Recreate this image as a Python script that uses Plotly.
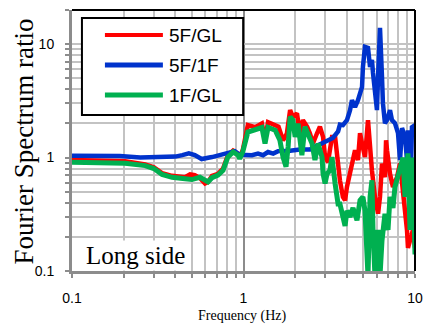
import plotly.graph_objects as go

# ---- data ----
freq_5f_1f = [0.1, 0.146, 0.19, 0.25, 0.33, 0.40, 0.44, 0.48, 0.52, 0.57, 0.655, 0.75, 0.81, 0.89, 0.95,
              1.02, 1.12, 1.215, 1.30, 1.39, 1.49, 1.59, 1.745, 1.87, 2.13, 2.44, 2.54, 2.79, 3.07, 3.32,
              3.56, 3.65, 3.80, 4.01, 4.18, 4.29, 4.47, 4.65, 4.91, 4.97, 5.11, 5.32, 5.47, 5.61, 5.69,
              5.84, 6.0, 6.09, 6.25, 6.42, 6.50, 6.68, 6.87, 7.15, 7.34, 7.64, 7.96, 8.18, 8.40, 8.75,
              8.98, 9.1, 9.48, 9.6, 10]
ratio_5f_1f = [1.04, 1.04, 1.03, 1.00, 1.00, 1.02, 1.05, 1.09, 1.05, 0.97, 1.01, 1.06, 1.11, 1.14, 1.06,
               1.05, 1.05, 1.085, 1.05, 1.12, 1.085, 1.14, 1.14, 1.15, 1.18, 1.18, 1.22, 1.30, 1.39, 1.49,
               1.70, 1.95, 1.93, 2.14, 2.62, 3.21, 2.79, 3.21, 4.19, 6.30, 9.46, 9.27, 6.30, 7.26, 5.57,
               3.94, 2.62, 5.14, 13.9, 5.14, 3.02, 2.01, 2.14, 2.62, 2.14, 2.01, 1.64, 0.95, 1.82, 1.51,
               0.95, 1.74, 0.80, 1.85, 1.93]

freq_5f_gl = [0.1, 0.146, 0.204, 0.267, 0.30, 0.335, 0.383, 0.456, 0.488, 0.52, 0.557, 0.596, 0.621, 0.655,
              0.71, 0.76, 0.81, 0.87, 0.93, 0.95, 0.99, 1.06, 1.17, 1.28, 1.335, 1.39, 1.53, 1.6, 1.70,
              1.79, 1.87, 1.94, 2.05, 2.13, 2.22, 2.35, 2.44, 2.54, 2.68, 2.79, 2.91, 2.99, 3.11, 3.28,
              3.42, 3.51, 3.65, 3.80, 3.91, 4.01, 4.18, 4.47, 4.65, 4.78, 4.91, 5.11, 5.32, 5.47, 5.61,
              5.84, 6.09, 6.25, 6.42, 6.68, 6.78, 6.87, 7.15, 7.44, 7.85, 8.18, 8.51, 8.98, 9.1, 9.35,
              9.73, 10]
ratio_5f_gl = [0.95, 0.95, 0.93, 0.87, 0.82, 0.73, 0.69, 0.67, 0.71, 0.70, 0.66, 0.59, 0.61, 0.69,
               0.72, 0.80, 1.04, 1.15, 1.08, 1.01, 1.16, 1.93, 1.85, 2.0, 1.42, 2.05, 1.93, 1.87, 1.42,
               1.63, 2.62, 2.29, 2.45, 1.63, 2.14, 1.87, 1.63, 1.33, 1.63, 1.87, 1.52, 1.01, 0.91, 1.52,
               1.52, 1.01, 0.63, 0.45, 0.42, 0.55, 0.72, 1.16, 0.95, 1.64, 1.33, 1.01, 2.14, 1.16, 0.77,
               0.45, 0.32, 0.45, 0.885, 0.67, 1.42, 1.16, 0.72, 0.55, 0.67, 0.885, 0.51, 0.23, 0.16, 0.185,
               0.23, 0.16]

freq_1f_gl = [0.1, 0.146, 0.204, 0.267, 0.30, 0.335, 0.383, 0.456, 0.50, 0.557, 0.596, 0.621, 0.655, 0.71,
              0.76, 0.81, 0.87, 0.93, 0.95, 0.99, 1.06, 1.17, 1.28, 1.335, 1.39, 1.53, 1.63, 1.70, 1.77,
              1.82, 1.87, 1.94, 2.0, 2.08, 2.19, 2.28, 2.38, 2.51, 2.61, 2.72, 2.87, 2.91, 2.99, 3.07,
              3.19, 3.28, 3.42, 3.56, 3.65, 3.80, 3.91, 4.01, 4.18, 4.35, 4.59, 4.78, 4.97, 5.11, 5.25,
              5.32, 5.47, 5.61, 5.69, 5.84, 6.0, 6.09, 6.25, 6.42, 6.68, 6.96, 7.15, 7.44, 7.64, 7.96,
              8.40, 8.51, 8.75, 8.98, 9.1, 9.35, 9.6, 9.73, 9.86, 10]
ratio_1f_gl = [0.91, 0.91, 0.89, 0.85, 0.80, 0.71, 0.67, 0.65, 0.64, 0.67, 0.63, 0.61, 0.665, 0.70,
               0.77, 1.01, 1.12, 1.05, 0.98, 1.12, 1.68, 1.77, 1.84, 1.33, 1.84, 1.74, 1.42, 1.01, 0.83,
               1.24, 2.29, 2.14, 1.52, 2.0, 1.05, 1.87, 1.63, 1.33, 0.95, 1.33, 1.01, 0.72, 0.59, 0.72,
               0.77, 1.01, 0.59, 0.39, 0.39, 0.28, 0.25, 0.34, 0.30, 0.36, 0.28, 0.42, 0.45, 0.34, 0.185,
               0.09, 0.45, 0.63, 0.23, 0.09, 0.16, 0.23, 0.09, 0.185, 0.32, 0.23, 0.45, 0.36, 0.55, 0.67,
               0.89, 1.0, 0.45, 0.95, 1.09, 0.23, 0.63, 1.0, 0.32, 0.14]

series_names = ["5F/GL", "5F/1F", "1F/GL"]
series_colors = ["#FF0000", "#0033CC", "#00B050"]

x_tick_vals = [0.1, 1, 10]
x_tick_text = ["0.1", "1", "10"]
y_tick_vals = [0.1, 1, 10]
y_tick_text = ["0.1", "1", "10"]
x_minor_vals = [0.2, 0.3, 0.4, 0.5, 0.6, 0.7, 0.8, 0.9, 2, 3, 4, 5, 6, 7, 8, 9]
y_minor_vals = [0.2, 0.3, 0.4, 0.5, 0.6, 0.7, 0.8, 0.9, 2, 3, 4, 5, 6, 7, 8, 9, 20]

fig = go.Figure()
fig.add_trace(go.Scatter(x=freq_5f_gl, y=ratio_5f_gl, mode="lines", name=series_names[0],
                         line=dict(color=series_colors[0], width=4.5)))
fig.add_trace(go.Scatter(x=freq_5f_1f, y=ratio_5f_1f, mode="lines", name=series_names[1],
                         line=dict(color=series_colors[1], width=4.5)))
fig.add_trace(go.Scatter(x=freq_1f_gl, y=ratio_1f_gl, mode="lines", name=series_names[2],
                         line=dict(color=series_colors[2], width=5)))

axis_gray = "#8C8C8C"
grid_gray = "#C3C3C3"
tick_font = dict(family="Liberation Sans", size=14, color="black")

fig.update_xaxes(type="log", range=[-1, 1], tickmode="array", tickvals=x_tick_vals, ticktext=x_tick_text,
                 showgrid=True, gridcolor=axis_gray, gridwidth=2,
                 minor=dict(tickmode="array", tickvals=x_minor_vals, showgrid=True, gridcolor=grid_gray,
                            gridwidth=2, ticks="outside", ticklen=4, tickcolor=axis_gray, tickwidth=2),
                 ticks="outside", ticklen=4, tickcolor=axis_gray, tickwidth=2,
                 showline=True, linecolor=axis_gray, linewidth=3, zeroline=False,
                 tickfont=tick_font, ticklabelstandoff=8, automargin=False)
fig.update_yaxes(type="log", range=[-1, 1.30103], tickmode="array", tickvals=y_tick_vals, ticktext=y_tick_text,
                 showgrid=True, gridcolor=grid_gray, gridwidth=2,
                 minor=dict(tickmode="array", tickvals=y_minor_vals, showgrid=True, gridcolor=grid_gray,
                            gridwidth=2, ticks="outside", ticklen=4, tickcolor=axis_gray, tickwidth=2),
                 ticks="outside", ticklen=4, tickcolor=axis_gray, tickwidth=2,
                 showline=True, linecolor=axis_gray, linewidth=3, zeroline=False,
                 tickfont=tick_font, ticklabelstandoff=8, automargin=False)

shapes = [
    dict(type="line", xref="paper", yref="paper", x0=0, x1=1, y0=1, y1=1,
         line=dict(color="black", width=2), layer="above"),
    dict(type="line", xref="paper", yref="paper", x0=1, x1=1, y0=0, y1=1,
         line=dict(color="black", width=2), layer="above"),
    # legend box
    dict(type="rect", xref="paper", yref="paper", x0=0.029, x1=0.499, y0=0.598, y1=0.969,
         line=dict(color="black", width=2), fillcolor="white", layer="above"),
]
legend_y = [0.904, 0.789, 0.674]
legend_w = [4, 5, 5]
annotations = []
for name, color, ly, lw in zip(series_names, series_colors, legend_y, legend_w):
    shapes.append(dict(type="line", xref="paper", yref="paper", x0=0.096, x1=0.265, y0=ly, y1=ly,
                       line=dict(color=color, width=lw), layer="above"))
    annotations.append(dict(text=name, xref="paper", yref="paper", x=0.276, y=ly, xanchor="left",
                            yanchor="middle", showarrow=False,
                            font=dict(family="Liberation Sans", size=19, color="black")))

annotations += [
    dict(text="Long side", xref="paper", yref="paper", x=0.035, y=0.061, xanchor="left", yanchor="middle",
         showarrow=False, bgcolor="white", borderpad=1,
         font=dict(family="Liberation Serif", size=25, color="black")),
    dict(text="Fourier Spectrum ratio", xref="paper", yref="paper", x=-0.14, y=0.496, textangle=-90,
         xanchor="center", yanchor="middle", showarrow=False,
         font=dict(family="Liberation Serif", size=27, color="black")),
    dict(text="Frequency (Hz)", xref="paper", yref="paper", x=0.4985, y=-0.172, xanchor="center",
         yanchor="middle", showarrow=False,
         font=dict(family="Liberation Serif", size=14, color="black")),
]

fig.update_layout(width=426, height=327, margin=dict(l=72, r=11, t=10, b=56),
                  paper_bgcolor="white", plot_bgcolor="white", showlegend=False,
                  shapes=shapes, annotations=annotations)

fig.write_html("out.html",
               config={"displayModeBar": False, "responsive": False},
               post_script="document.body.style.margin='0px';"
                           "document.body.style.overflow='hidden';"
                           "document.documentElement.style.overflow='hidden';")
